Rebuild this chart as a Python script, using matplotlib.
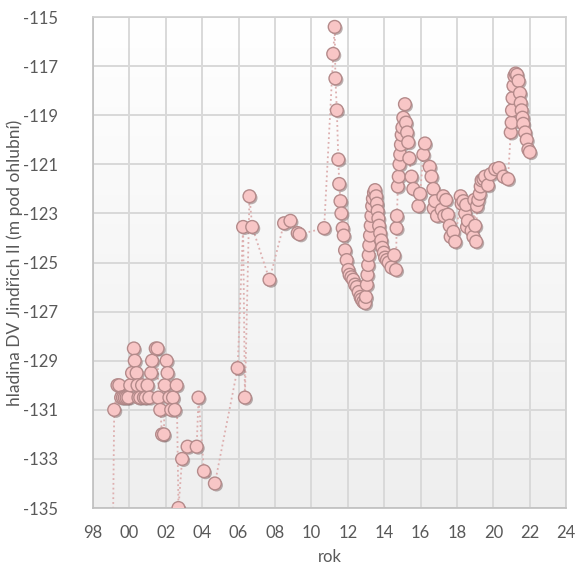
import numpy as np
import matplotlib
matplotlib.use('Agg')
import matplotlib.pyplot as plt
import matplotlib.patheffects as pe

# hladina DV Jindrich II - rok (desetinny) a hladina v m pod ohlubni
years = [1999.10, 1999.17, 1999.35, 1999.45, 1999.55, 1999.65, 1999.75, 1999.85, 1999.95,
         2000.05, 2000.15, 2000.25, 2000.30, 2000.40, 2000.45, 2000.50, 2000.60, 2000.70,
         2000.80, 2000.90, 2001.00, 2001.10, 2001.20, 2001.25, 2001.45, 2001.55, 2001.60,
         2001.70, 2001.80, 2001.90, 2001.95, 2002.05, 2002.10, 2002.20, 2002.30, 2002.40,
         2002.50, 2002.60, 2002.70, 2002.90, 2003.20, 2003.70, 2003.80, 2004.10, 2004.70,
         2005.95, 2006.25, 2006.35, 2006.60, 2006.75, 2007.70, 2008.50, 2008.85, 2009.25,
         2009.35, 2010.70,
         2011.20, 2011.28, 2011.32, 2011.40, 2011.48, 2011.53, 2011.60, 2011.65, 2011.72,
         2011.78, 2011.85, 2011.94, 2012.03, 2012.10, 2012.20, 2012.30, 2012.40, 2012.50,
         2012.60, 2012.70, 2012.76, 2012.85, 2012.95, 2013.00, 2013.05, 2013.08, 2013.12,
         2013.15, 2013.18, 2013.22, 2013.26, 2013.30, 2013.34, 2013.38, 2013.44, 2013.50,
         2013.56, 2013.60, 2013.64, 2013.68, 2013.72, 2013.78, 2013.84, 2013.90, 2013.98,
         2014.05, 2014.15, 2014.25, 2014.40, 2014.55, 2014.65, 2014.68, 2014.70, 2014.75,
         2014.80, 2014.84, 2014.88, 2014.92, 2014.96, 2015.00, 2015.05, 2015.14, 2015.20,
         2015.26, 2015.32, 2015.38, 2015.50, 2015.60, 2015.88, 2015.97, 2016.15, 2016.24,
         2016.50, 2016.60, 2016.70, 2016.72, 2016.80, 2016.90, 2017.16, 2017.25, 2017.30,
         2017.40, 2017.50, 2017.60, 2017.65, 2017.80, 2017.90, 2018.20, 2018.25, 2018.35,
         2018.45, 2018.50, 2018.55, 2018.60, 2018.80, 2018.90, 2018.95, 2019.00, 2019.05,
         2019.10, 2019.17, 2019.25, 2019.30, 2019.35, 2019.45, 2019.54, 2019.70, 2019.85,
         2020.10, 2020.30, 2020.55, 2020.80, 2020.95, 2021.00, 2021.02, 2021.05, 2021.10,
         2021.15, 2021.22, 2021.30, 2021.38, 2021.46, 2021.50, 2021.55, 2021.60, 2021.64,
         2021.74, 2021.83, 2021.92, 2022.00]

levels = [-136.0, -131.0, -130.0, -130.0, -130.5, -130.5, -130.5, -130.5, -130.5,
          -130.0, -129.5, -128.5, -129.0, -129.5, -130.0, -130.5, -130.5, -130.0,
          -130.5, -130.5, -130.0, -130.5, -129.5, -129.0, -128.5, -128.5, -130.5,
          -131.0, -132.0, -132.0, -130.0, -129.0, -129.5, -130.5, -131.0, -130.5,
          -131.0, -130.0, -135.0, -133.0, -132.5, -132.5, -130.5, -133.5, -134.0,
          -129.3, -123.55, -130.5, -122.3, -123.55, -125.7, -123.4, -123.3, -123.8,
          -123.85, -123.6,
          -116.5, -115.4, -117.5, -118.8, -120.8, -121.8, -122.5, -123.0, -123.6,
          -123.9, -124.5, -124.9, -125.3, -125.5, -125.6, -125.7, -125.9, -126.0,
          -126.2, -126.4, -126.5, -126.6, -126.65, -126.4, -125.9, -125.5, -125.1,
          -124.7, -124.3, -123.9, -123.5, -123.1, -122.7, -122.4, -122.15, -122.05,
          -122.3, -122.6, -122.9, -123.2, -123.5, -123.8, -124.1, -124.4, -124.6,
          -124.8, -124.9, -125.0, -125.2, -124.7, -125.3, -123.6, -123.1, -121.9,
          -121.5, -121.0, -120.6, -120.2, -119.8, -119.5, -119.1, -118.55, -119.3,
          -119.7, -120.1, -120.75, -121.5, -122.0, -122.7, -122.2, -120.6, -120.15,
          -121.1, -121.5, -122.0, -122.8, -122.5, -123.1, -122.85, -122.3, -123.1,
          -122.45, -123.05, -123.5, -123.95, -123.75, -124.15, -122.3, -122.6, -122.5,
          -123.0, -122.65, -123.55, -123.3, -123.7, -123.95, -122.45, -123.5, -124.15,
          -122.7, -122.45, -122.2, -121.9, -121.65, -121.6, -121.5, -121.85, -121.4,
          -121.2, -121.15, -121.5, -121.6, -119.7, -119.3, -118.8, -118.3, -117.8,
          -117.4, -117.3, -117.35, -117.6, -118.1, -118.5, -118.8, -119.1, -119.35,
          -119.7, -120.0, -120.4, -120.5]

xticks = [1998, 2000, 2002, 2004, 2006, 2008, 2010, 2012, 2014, 2016, 2018, 2020, 2022, 2024]
xtick_labels = ['98', '00', '02', '04', '06', '08', '10', '12', '14', '16', '18', '20', '22', '24']
yticks = [-115, -117, -119, -121, -123, -125, -127, -129, -131, -133, -135]

plt.rcParams['font.family'] = ['Lato', 'DejaVu Sans']

fig = plt.figure(figsize=(5.88, 5.68), dpi=100)
ax = fig.add_axes([0.158, 0.1056, 0.805, 0.8644])

# jemny prechod pozadi (bila nahore, svetle seda dole)
shade = np.linspace(1.0, 0.935, 256).reshape(-1, 1, 1)
bg = np.repeat(shade, 3, axis=2)
ax.imshow(bg, extent=[1998, 2024, -135, -115], aspect='auto', zorder=0, origin='upper')

ax.plot(years, levels, linestyle=':', color='#DDAFAF', lw=1.3, zorder=2)
ax.plot(years, levels, linestyle='none', marker='o', markersize=9.2,
        markerfacecolor='#F8C6C6', markeredgecolor='#B48A8A', markeredgewidth=1.0,
        zorder=3,
        path_effects=[pe.SimplePatchShadow(offset=(1.2, -1.2), shadow_rgbFace='#6d5252', alpha=0.45),
                      pe.Normal()])

ax.set_xlim(1998, 2024)
ax.set_ylim(-135, -115)
ax.set_xticks(xticks)
ax.set_xticklabels(xtick_labels)
ax.set_yticks(yticks)
ax.set_yticklabels([str(v) for v in yticks])

ax.grid(True, color='#D9D9D9', lw=1.4, zorder=1)
ax.set_axisbelow(True)
for s in ax.spines.values():
    s.set_color('#D0D0D0')
    s.set_linewidth(1.2)
ax.spines['left'].set_color('#BFBFBF')
ax.spines['bottom'].set_color('#BFBFBF')

ax.tick_params(axis='both', length=0, colors='#595959', labelsize=12)
ax.tick_params(axis='x', pad=12)
ax.tick_params(axis='y', pad=25)

ax.set_xlabel('rok', fontsize=12, color='#595959', labelpad=6)
ax.set_ylabel('hladina DV Jindřich II (m pod ohlubní)', fontsize=12.5, color='#595959')
ax.yaxis.set_label_coords(-0.148, 0.5)

fig.savefig('out.png', dpi=100)
